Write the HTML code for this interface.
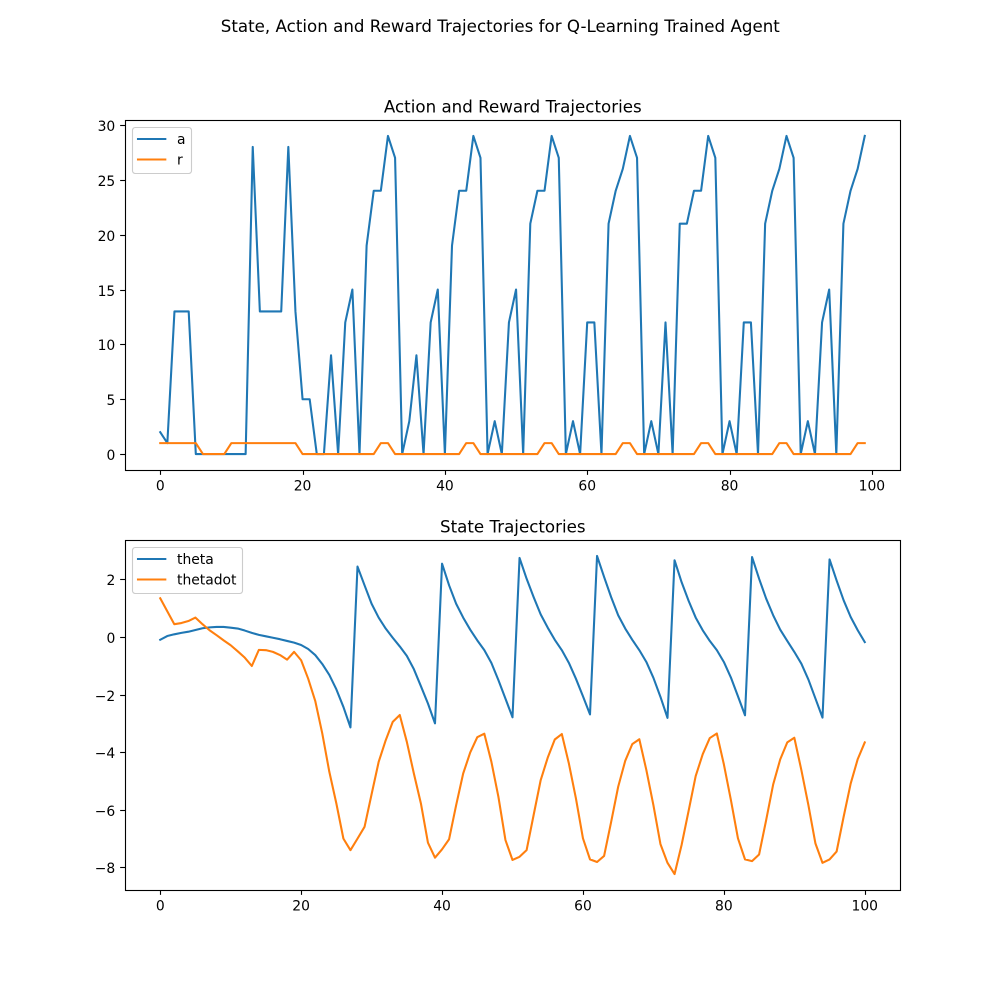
<!DOCTYPE html>
<html lang="en">
<head>
<meta charset="utf-8">
<title>State, Action and Reward Trajectories</title>
<style>
html,body{margin:0;padding:0;background:#fff;width:1000px;height:1000px;overflow:hidden}
svg{display:block}
text{font-family:"DejaVu Sans","Liberation Sans",sans-serif;fill:#000}
</style>
</head>
<body>
<svg id="chart" xmlns="http://www.w3.org/2000/svg" width="1000" height="1000" viewBox="0 0 1000 1000">
  <rect x="0" y="0" width="1000" height="1000" fill="#fff"/>
  <text x="500.3" y="32" text-anchor="middle" font-size="16.67" letter-spacing="0.015">State, Action and Reward Trajectories for Q-Learning Trained Agent</text>
  <g id="top-plot"></g>
  <g id="bottom-plot"></g>
</svg>
<script>
const actionValues = [2,1,13,13,13,0,0,0,0,0,0,0,0,28,13,13,13,13,28,13,5,5,0,0,9,0,12,15,0,19,24,24,29,27,0,3,9,0,12,15,0,19,24,24,29,27,0,3,0,12,15,0,21,24,24,29,27,0,3,0,12,12,0,21,24,26,29,27,0,3,0,12,0,21,21,24,24,29,27,0,3,0,12,12,0,21,24,26,29,27,0,3,0,12,15,0,21,24,26,29];
const rewardValues = [1,1,1,1,1,1,0,0,0,0,1,1,1,1,1,1,1,1,1,1,0,0,0,0,0,0,0,0,0,0,0,1,1,0,0,0,0,0,0,0,0,0,0,1,1,0,0,0,0,0,0,0,0,0,1,1,0,0,0,0,0,0,0,0,0,1,1,0,0,0,0,0,0,0,0,0,1,1,0,0,0,0,0,0,0,0,0,1,1,0,0,0,0,0,0,0,0,0,1,1];
const thetaValues = [-0.10,0.03,0.09,0.14,0.18,0.24,0.30,0.33,0.345,0.345,0.32,0.29,0.22,0.14,0.07,0.02,-0.03,-0.08,-0.14,-0.20,-0.28,-0.42,-0.63,-0.94,-1.32,-1.82,-2.43,-3.14,2.44,1.79,1.15,0.67,0.29,-0.03,-0.33,-0.66,-1.12,-1.71,-2.31,-3.00,2.54,1.79,1.15,0.67,0.25,-0.12,-0.46,-0.90,-1.50,-2.14,-2.79,2.74,2.02,1.38,0.78,0.32,-0.10,-0.46,-0.90,-1.45,-2.06,-2.69,2.81,2.08,1.38,0.75,0.29,-0.10,-0.46,-0.87,-1.42,-2.08,-2.81,2.66,1.90,1.25,0.67,0.23,-0.14,-0.46,-0.87,-1.41,-2.06,-2.72,2.77,2.02,1.33,0.75,0.25,-0.14,-0.52,-0.93,-1.48,-2.14,-2.80,2.69,1.96,1.27,0.69,0.23,-0.18];
const thetadotValues = [1.34,0.89,0.44,0.48,0.55,0.67,0.44,0.23,0.06,-0.12,-0.29,-0.50,-0.72,-1.01,-0.45,-0.46,-0.52,-0.63,-0.79,-0.52,-0.81,-1.45,-2.22,-3.35,-4.68,-5.78,-7.00,-7.40,-7.00,-6.59,-5.46,-4.34,-3.59,-2.95,-2.71,-3.64,-4.74,-5.78,-7.14,-7.66,-7.37,-7.02,-5.84,-4.74,-4.01,-3.48,-3.36,-4.33,-5.55,-7.05,-7.74,-7.63,-7.40,-6.18,-4.97,-4.19,-3.56,-3.37,-4.39,-5.60,-6.99,-7.72,-7.81,-7.60,-6.42,-5.20,-4.30,-3.72,-3.55,-4.62,-5.84,-7.19,-7.84,-8.23,-7.22,-6.03,-4.83,-4.07,-3.51,-3.35,-4.42,-5.66,-6.99,-7.72,-7.78,-7.55,-6.36,-5.12,-4.25,-3.66,-3.50,-4.62,-5.84,-7.17,-7.84,-7.72,-7.45,-6.24,-5.09,-4.24,-3.66];
const xTicks = [0,20,40,60,80,100];
const xTickLabels = ['0','20','40','60','80','100'];
const topYTicks = [0,5,10,15,20,25,30];
const topYTickLabels = ['0','5','10','15','20','25','30'];
const bottomYTicks = [-8,-6,-4,-2,0,2];
const bottomYTickLabels = ['\u22128','\u22126','\u22124','\u22122','0','2'];

const SVG_NS = 'http://www.w3.org/2000/svg';
const BLUE = '#1f77b4';
const ORANGE = '#ff7f0e';

function make(parent, tag, attrs, content) {
  const node = document.createElementNS(SVG_NS, tag);
  for (const key in attrs) node.setAttribute(key, attrs[key]);
  if (content !== undefined) node.textContent = content;
  parent.appendChild(node);
  return node;
}

function extent(seriesList) {
  const all = [].concat(...seriesList);
  return [Math.min(...all), Math.max(...all)];
}

function drawAxes(rootId, box, title, series, yTicks, yTickLabels, legendWidth) {
  const root = document.getElementById(rootId);
  const [yMin, yMax] = extent(series.map(s => s.values));
  const xMax = Math.max(...series.map(s => s.values.length - 1));
  const xPad = xMax * 0.05;
  const yPad = (yMax - yMin) * 0.05;
  const xScale = v => box.left + (v + xPad) / (xMax + 2 * xPad) * (box.right - box.left);
  const yScale = v => box.bottom - (v - (yMin - yPad)) / (yMax - yMin + 2 * yPad) * (box.bottom - box.top);

  const panel = make(root, 'rect', {x: box.left, y: box.top, width: box.right - box.left, height: box.bottom - box.top, fill: '#fff'});
  
  

  xTicks.forEach((tick, i) => {
    const px = Math.round(xScale(tick)) + 0.5;
    const mark = make(root, 'line', {x1: px, x2: px, y1: box.bottom, y2: box.bottom + 4.86, stroke: '#000', 'stroke-width': 1.11});
    
    
    const label = make(root, 'text', {x: xScale(tick), y: box.bottom + 20.3, 'text-anchor': 'middle', 'font-size': 13.89}, xTickLabels[i]);
    
    
  });

  yTicks.forEach((tick, i) => {
    const py = Math.round(yScale(tick)) + 0.5;
    const mark = make(root, 'line', {x1: box.left - 4.86, x2: box.left, y1: py, y2: py, stroke: '#000', 'stroke-width': 1.11});
    
    
    const label = make(root, 'text', {x: box.left - 9.72, y: Math.round(yScale(tick)) + 6, 'text-anchor': 'end', 'font-size': 13.89}, yTickLabels[i]);
    
    
  });

  series.forEach(s => {
    const pts = s.values.map((v, i) => xScale(i).toFixed(2) + ',' + yScale(v).toFixed(2)).join(' ');
    const line = make(root, 'polyline', {points: pts, fill: 'none', stroke: s.color, 'stroke-width': 2.08, 'stroke-linejoin': 'round', 'stroke-linecap': 'square'});
    
    
  });

  const frame = make(root, 'rect', {x: box.left + 0.5, y: box.top + 0.5, width: box.right - box.left, height: box.bottom - box.top, fill: 'none', stroke: '#000', 'stroke-width': 1.11});
  
  

  const heading = make(root, 'text', {x: (box.left + box.right) / 2 + 0.3, y: box.top - 7.4, 'text-anchor': 'middle', 'font-size': 16.67, 'letter-spacing': 0.015}, title);
  
  

  const legend = make(root, 'g', {});
  
  
  const legendBox = make(legend, 'rect', {x: box.left + 7.5, y: box.top + 7.5, width: legendWidth, height: 46, rx: 2.8, ry: 2.8, fill: '#fff', 'fill-opacity': 0.8, stroke: '#ccc', 'stroke-width': 1.11});
  
  
  series.forEach((s, i) => {
    const rowY = box.top + 19 + i * 20.5;
    const key = make(legend, 'line', {x1: box.left + 13, x2: box.left + 40.3, y1: rowY, y2: rowY, stroke: s.color, 'stroke-width': 2.08, 'stroke-linecap': 'square'});
    
    
    const text = make(legend, 'text', {x: box.left + 52, y: rowY + 5, 'font-size': 13.89}, s.name);
    
    
  });
}

drawAxes('top-plot', {left: 125, right: 900, top: 120, bottom: 470}, 'Action and Reward Trajectories',
  [{name: 'a', values: actionValues, color: BLUE}, {name: 'r', values: rewardValues, color: ORANGE}],
  topYTicks, topYTickLabels, 59);
drawAxes('bottom-plot', {left: 125, right: 900, top: 540, bottom: 890}, 'State Trajectories',
  [{name: 'theta', values: thetaValues, color: BLUE}, {name: 'thetadot', values: thetadotValues, color: ORANGE}],
  bottomYTicks, bottomYTickLabels, 110);
</script>
</body>
</html>
